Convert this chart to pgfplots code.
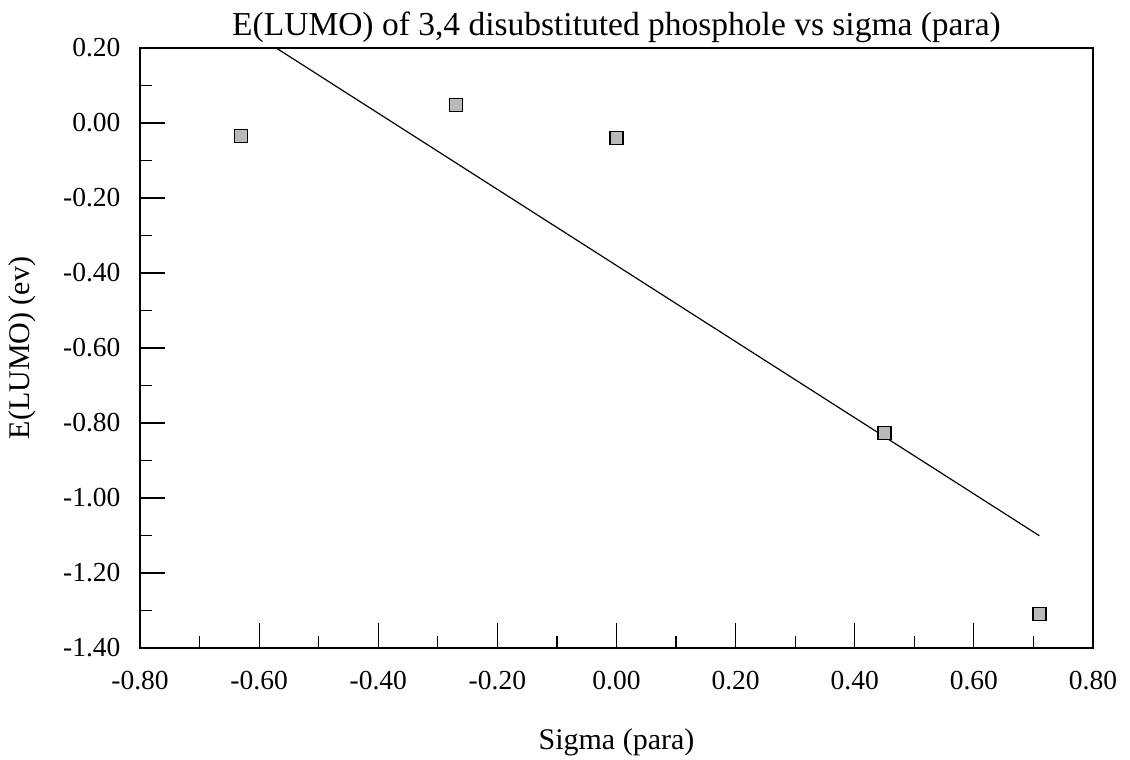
\documentclass[border=0pt]{standalone}
\usepackage{pgfplots}
\pgfplotsset{compat=1.18}
\usepackage{fontspec}
\setmainfont{Liberation Serif}
\begin{document}
\begin{tikzpicture}
\begin{axis}[
  scale only axis,
  width=953pt, height=600pt,
  xmin=-0.8, xmax=0.8, ymin=-1.4, ymax=0.2,
  xtick={-0.8,-0.6,...,0.81},
  ytick={-1.4,-1.2,...,0.21},
  minor x tick num=1, minor y tick num=1,
  tick pos=left, tick align=inside,
  major tick length=25pt, minor tick length=12pt,
  tick style={black, line width=1.2pt},
  axis line style={line width=1.2pt},
  /pgf/number format/assume math mode=true,
  /pgf/number format/.cd, fixed, fixed zerofill, precision=2, /pgfplots/.cd,
  tick label style={font=\fontsize{27.5}{31}\selectfont},
  xticklabel style={yshift=-20pt},
  yticklabel style={xshift=-16pt},
  title={E(LUMO) of 3,4 disubstituted phosphole vs sigma (para)},
  title style={font=\fontsize{33.5}{38}\selectfont, yshift=-4pt},
  xlabel={Sigma (para)},
  ylabel={E(LUMO) (ev)},
  label style={font=\fontsize{30}{34}\selectfont},
  xlabel style={yshift=-32pt},
  ylabel style={yshift=20pt},
  clip=true,
]
\addplot[black, line width=1.2pt] coordinates {(-0.63,0.2595) (0.71,-1.1007)};
\addplot[only marks, mark=square*, mark size=6.5pt,
  mark options={fill=gray!55, draw=black, line width=1.2pt}] coordinates {
  (-0.63,-0.035) (-0.27,0.048) (0.00,-0.040) (0.45,-0.827) (0.71,-1.309)};
\end{axis}
\path (current axis.south west) ++(-140pt,-108pt) rectangle ++(1130pt,756pt);
\end{tikzpicture}
\end{document}
